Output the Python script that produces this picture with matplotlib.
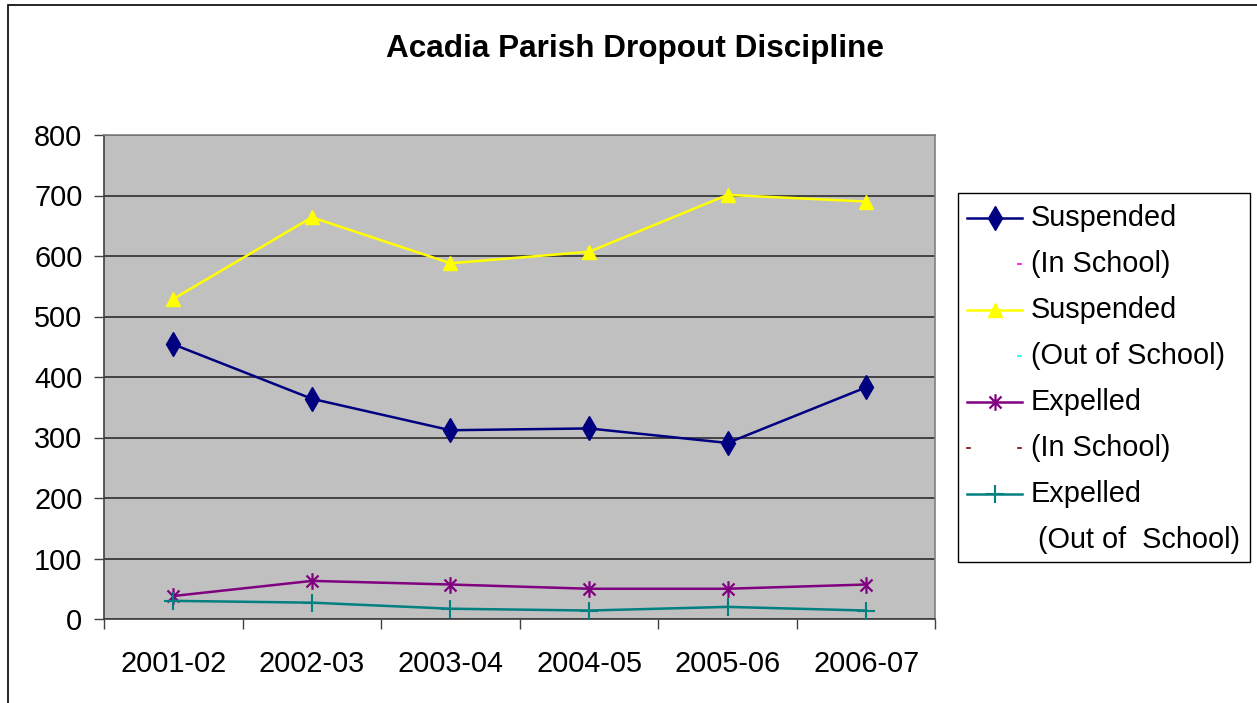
import matplotlib
matplotlib.use("Agg")
import matplotlib.pyplot as plt
from matplotlib.path import Path
from matplotlib.lines import Line2D
from matplotlib.patches import Rectangle

plt.rcParams['font.family'] = ['Liberation Sans', 'DejaVu Sans']

# ---- data ----
years = ['2001-02', '2002-03', '2003-04', '2004-05', '2005-06', '2006-07']
susp_in = [454, 364, 312, 315, 291, 383]
susp_out = [529, 664, 588, 607, 701, 690]
exp_in = [38, 63, 57, 50, 50, 57]
exp_out = [30, 27, 17, 14, 20, 14]
yticks = [0, 100, 200, 300, 400, 500, 600, 700, 800]
title = 'Acadia Parish Dropout Discipline'
legend_labels = ['Suspended', '(In School)', 'Suspended', '(Out of School)',
                 'Expelled', '(In School)', 'Expelled', '(Out of  School)']

W, H = 1257, 703
fig = plt.figure(figsize=(W / 100, H / 100), dpi=100)
fig.patch.set_facecolor('white')

def fx(x):
    return x / W

def fy(y):
    return 1 - y / H

FS = 20.8

# outer chart border (clipped by figure on right/bottom)
fig.patches.append(Rectangle((fx(8), fy(760)), fx(1300), fy(5) - fy(760),
                             transform=fig.transFigure, fill=False,
                             edgecolor='black', lw=1.2))

ax = fig.add_axes([fx(104), fy(619), fx(935.5) - fx(104), fy(135) - fy(619)])
ax.set_facecolor('#C0C0C0')

star = Path([(0, -1), (0, 1), (-0.72, -0.72), (0.72, 0.72), (-0.72, 0.72), (0.72, -0.72)],
            [Path.MOVETO, Path.LINETO, Path.MOVETO, Path.LINETO, Path.MOVETO, Path.LINETO])

LW = 1.8
x = list(range(len(years)))
ax.plot(x, susp_in, color='#000080', lw=LW, marker='d', ms=12.5, mfc='#000080', mec='#000080', zorder=3)
ax.plot(x, susp_out, color='#FFFF00', lw=LW, marker='^', ms=10.5, mfc='#FFFF00', mec='#FFFF00', zorder=3)
ax.plot(x, exp_in, color='#800080', lw=LW, marker=star, ms=12, mfc='none', mec='#800080', mew=1.6, zorder=3)
ax.plot(x, exp_out, color='#008080', lw=LW, marker='+', ms=13, mec='#008080', mew=1.5, zorder=3)

ax.set_xlim(-0.5, len(years) - 0.5)
ax.set_ylim(0, 800)
ax.set_yticks(yticks)
ax.yaxis.grid(True, color='#202020', lw=1.1)
ax.set_axisbelow(True)
ax.set_xticks(x)
ax.set_xticklabels(years, fontsize=FS)
ax.set_xticks([i - 0.5 for i in range(len(years) + 1)], minor=True)
ax.tick_params(axis='x', which='major', length=0, pad=22)
ax.tick_params(axis='x', which='minor', length=7.5, width=1, color='#404040', direction='out')
ax.tick_params(axis='y', length=7.5, width=1, color='#404040', direction='out', labelsize=FS, pad=8)
for s in ax.spines.values():
    s.set_color('#808080')
    s.set_linewidth(1.2)
ax.spines['left'].set_color('#404040')
ax.spines['bottom'].set_color('#404040')

fig.text(fx(635), fy(49), title, ha='center', va='center', fontsize=22.7, fontweight='bold')

# ---- legend ----
fig.patches.append(Rectangle((fx(958), fy(562)), fx(1250) - fx(958), fy(193) - fy(562),
                             transform=fig.transFigure, fill=False, edgecolor='black', lw=1))
rows = [218 + 46 * i for i in range(8)]
styles = [
    dict(color='#000080', marker='d', ms=12.5, mfc='#000080', mec='#000080', line=True),
    dict(color='#FF00FF', dash=[1019]),
    dict(color='#FFFF00', marker='^', ms=10.5, mfc='#FFFF00', mec='#FFFF00', line=True),
    dict(color='#00FFFF', dash=[1019]),
    dict(color='#800080', marker=star, ms=12, mfc='none', mec='#800080', mew=1.6, line=True),
    dict(color='#800000', dash=[968, 1019]),
    dict(color='#008080', marker='+', ms=13, mec='#008080', mew=1.5, line=True),
    None,
]
for i, (lab, y) in enumerate(zip(legend_labels, rows)):
    st = styles[i]
    if st is not None and st.get('line'):
        fig.lines.append(Line2D([fx(967), fx(1022)], [fy(y), fy(y)], transform=fig.transFigure,
                                color=st['color'], lw=LW))
        kw = {k: v for k, v in st.items() if k not in ('line', 'color')}
        fig.lines.append(Line2D([fx(994.5)], [fy(y)], transform=fig.transFigure,
                                linestyle='none', **kw))
    elif st is not None:
        for dx in st['dash']:
            fig.lines.append(Line2D([fx(dx - 1.5), fx(dx + 1.5)], [fy(y), fy(y)],
                                    transform=fig.transFigure, color=st['color'], lw=1.2))
    tx = 1038 if i == 7 else 1031
    fig.text(fx(tx), fy(y), lab, ha='left', va='center', fontsize=FS)

fig.savefig('out.png', dpi=100, facecolor='white')
